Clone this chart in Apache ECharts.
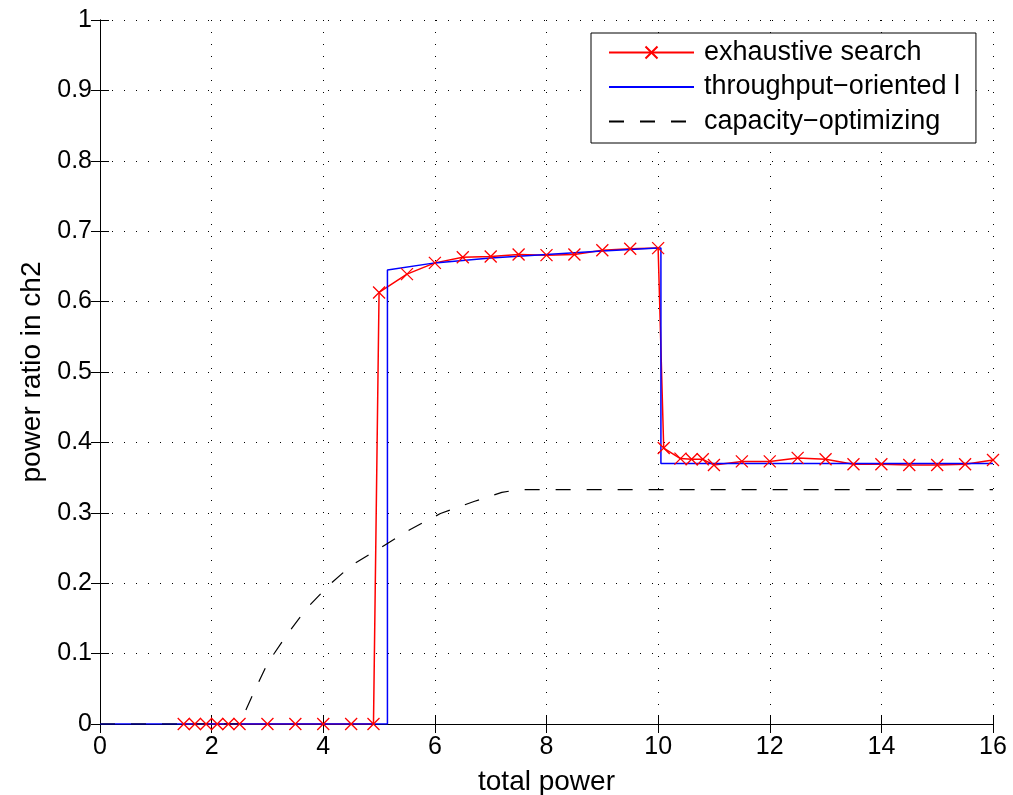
<!DOCTYPE html>
<html>
<head>
<meta charset="utf-8">
<script src="https://cdn.jsdelivr.net/npm/echarts@6/dist/echarts.min.js"></script>
<style>
  html, body { margin: 0; padding: 0; background: #fff; }
  #chart { width: 1013px; height: 795px; }
</style>
</head>
<body>
<div id="chart"></div>
<script>
// exhaustive search (red, x markers)
var exhaustiveX = [1.5, 1.7, 1.9, 2.1, 2.3, 2.5, 3, 3.5, 4, 4.5, 4.9, 5, 5.5, 6, 6.5, 7, 7.5, 8, 8.5, 9, 9.5, 10,
                   10.1, 10.4, 10.6, 10.8, 11, 11.5, 12, 12.5, 13, 13.5, 14, 14.5, 15, 15.5, 16];
var exhaustiveY = [0, 0, 0, 0, 0, 0, 0, 0, 0, 0, 0, 0.613, 0.639, 0.655, 0.663, 0.664, 0.667, 0.666, 0.667, 0.673, 0.675, 0.676,
                   0.392, 0.377, 0.376, 0.376, 0.368, 0.373, 0.373, 0.378, 0.376, 0.369, 0.369, 0.368, 0.368, 0.369, 0.375];

// throughput-oriented (blue)
var throughputX = [0, 5.15, 5.15, 6, 7, 8, 9, 10, 10.05, 10.05, 16];
var throughputY = [0, 0, 0.645, 0.655, 0.662, 0.667, 0.672, 0.676, 0.676, 0.37, 0.37];

// capacity-optimizing (black dashed)
var capacityX = [0, 2.5, 2.75, 3, 3.35, 3.7, 4.1, 4.5, 5.1, 5.55, 6.1, 6.7, 7.2, 7.5, 16];
var capacityY = [0, 0, 0.044, 0.086, 0.127, 0.164, 0.197, 0.225, 0.254, 0.276, 0.299, 0.316, 0.329, 0.333, 0.333];

var seriesNames = ['exhaustive search', 'throughput\u2212oriented l', 'capacity\u2212optimizing'];

function pairs(xs, ys) {
    var out = [];
    for (var i = 0; i < xs.length; i++) {
        out.push([xs[i], ys[i]]);
    }
    return out;
}

var fontFamily = '"Liberation Sans", Arial, sans-serif';
var gridLine = {show: true, lineStyle: {color: '#000', width: 1, type: [1, 11]}};
var boxTick = {show: true, inside: true, length: 9, lineStyle: {color: '#000'}};
var boxLine = {show: true, lineStyle: {color: '#000', width: 1}};

var myChart = echarts.init(document.getElementById('chart'));

var option = {
    animation: false,
    textStyle: {fontFamily: fontFamily},
    grid: {left: 100, top: 20, width: 893, height: 704, containLabel: false, outerBoundsMode: 'none'},
    legend: {
        show: true,
        orient: 'vertical',
        left: 591,
        top: 33,
        padding: [6, 16, 8, 17],
        itemGap: 7.5,
        itemWidth: 85,
        itemHeight: 15,
        backgroundColor: '#fff',
        borderColor: '#000',
        borderWidth: 1,
        borderRadius: 0,
        textStyle: {fontSize: 27, color: '#000', fontFamily: fontFamily, padding: [0, 0, 0, 5]},
        data: [
            {name: seriesNames[0]},
            {name: seriesNames[1], itemStyle: {opacity: 0}},
            {name: seriesNames[2], itemStyle: {opacity: 0}}
        ]
    },
    xAxis: [
        {
            type: 'value', position: 'bottom', min: 0, max: 16, interval: 2,
            name: 'total power', nameLocation: 'middle', nameGap: 44,
            nameTextStyle: {fontSize: 28, color: '#000'},
            axisLine: boxLine,
            axisTick: boxTick,
            axisLabel: {fontSize: 25, color: '#000', margin: 11},
            splitLine: gridLine
        },
        {
            type: 'value', position: 'top', min: 0, max: 16, interval: 2,
            axisLine: boxLine,
            axisTick: boxTick,
            axisLabel: {show: false},
            splitLine: {show: false}
        }
    ],
    yAxis: [
        {
            type: 'value', position: 'left', min: 0, max: 1, interval: 0.1,
            name: 'power ratio in ch2', nameLocation: 'middle', nameGap: 54,
            nameTextStyle: {fontSize: 28, color: '#000'},
            axisLine: boxLine,
            axisTick: boxTick,
            axisLabel: {fontSize: 25, color: '#000', margin: 8},
            splitLine: gridLine
        },
        {
            type: 'value', position: 'right', min: 0, max: 1, interval: 0.1,
            axisLine: boxLine,
            axisTick: boxTick,
            axisLabel: {show: false},
            splitLine: {show: false}
        }
    ],
    series: [
        {
            name: seriesNames[0],
            type: 'line',
            data: pairs(exhaustiveX, exhaustiveY),
            symbol: 'path://M0,0 L10,10 M10,0 L0,10',
            symbolSize: 12,
            showSymbol: true,
            lineStyle: {color: '#ff0000', width: 1.5},
            itemStyle: {color: '#ff0000', borderColor: '#ff0000', borderWidth: 1.3},
            emphasis: {disabled: true}
        },
        {
            name: seriesNames[1],
            type: 'line',
            data: pairs(throughputX, throughputY),
            symbol: 'none',
            lineStyle: {color: '#0000ff', width: 1.5},
            itemStyle: {color: '#0000ff'},
            emphasis: {disabled: true}
        },
        {
            name: seriesNames[2],
            type: 'line',
            data: pairs(capacityX, capacityY),
            symbol: 'none',
            lineStyle: {color: '#000', width: 1.2, type: [15, 16]},
            itemStyle: {color: '#000'},
            emphasis: {disabled: true}
        }
    ]
};

myChart.setOption(option);
</script>
</body>
</html>
